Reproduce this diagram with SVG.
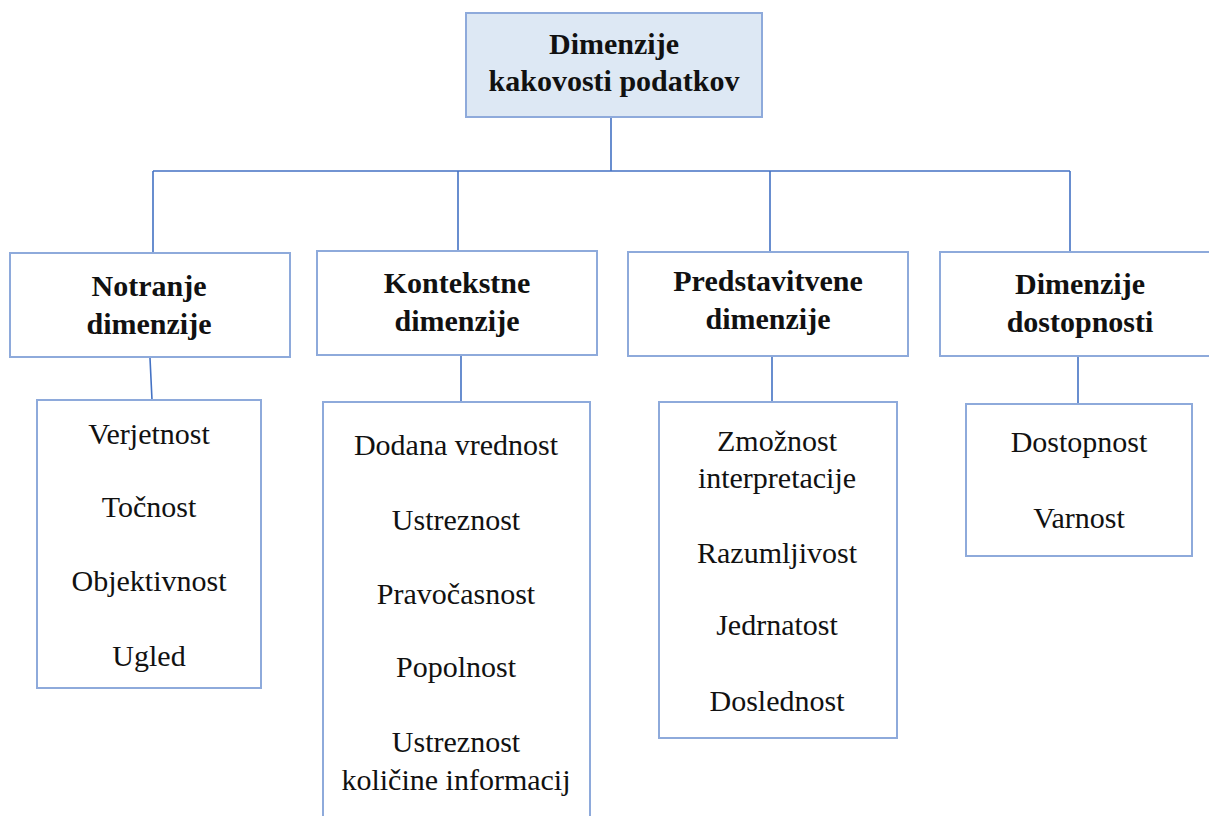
<svg xmlns="http://www.w3.org/2000/svg" width="1209" height="816" viewBox="0 0 1209 816">
<style>
.box{fill:#ffffff;stroke:#8eaadb;stroke-width:2}
.root{fill:#dde8f4;stroke:#8eaadb;stroke-width:2}
.conn{fill:none;stroke:#4472c4;stroke-width:1.6}
.h{font-weight:bold}
</style>
<rect width="1209" height="816" fill="#ffffff"/>
<g id="connectors">
<path class="conn" d="M611,117 V171 M153,171 H1070 M153,171 V253 M458,171 V251 M770,171 V252 M1070,171 V252"/>
<path class="conn" d="M150,358 L152,400 M461,356 V402 M772,356 V402 M1078,356 V404"/>
</g>
<g font-family="Liberation Serif, DejaVu Serif, serif" font-size="30" fill="#111" text-anchor="middle">
<g id="root">
<rect class="root" x="466" y="13" width="296" height="104"/>
<text class="h" x="614" y="54">Dimenzije</text>
<text class="h" x="614" y="91">kakovosti podatkov</text>
</g>
<g id="notranje">
<rect class="box" x="10" y="253" width="280" height="104"/>
<text class="h" x="149" y="296">Notranje</text>
<text class="h" x="149" y="334">dimenzije</text>
</g>
<g id="kontekstne">
<rect class="box" x="317" y="251" width="280" height="104"/>
<text class="h" x="457" y="293">Kontekstne</text>
<text class="h" x="457" y="331">dimenzije</text>
</g>
<g id="predstavitvene">
<rect class="box" x="628" y="252" width="280" height="104"/>
<text class="h" x="768" y="291">Predstavitvene</text>
<text class="h" x="768" y="329">dimenzije</text>
</g>
<g id="dostopnosti">
<rect class="box" x="940" y="252" width="280" height="104"/>
<text class="h" x="1080" y="294">Dimenzije</text>
<text class="h" x="1080" y="332">dostopnosti</text>
</g>
<g id="notranje-list">
<rect class="box" x="37" y="400" width="224" height="288"/>
<text x="149" y="444">Verjetnost</text>
<text x="149" y="517">Točnost</text>
<text x="149" y="591">Objektivnost</text>
<text x="149" y="666">Ugled</text>
</g>
<g id="kontekstne-list">
<rect class="box" x="323" y="402" width="267" height="430"/>
<text x="456" y="455">Dodana vrednost</text>
<text x="456" y="530">Ustreznost</text>
<text x="456" y="604">Pravočasnost</text>
<text x="456" y="677">Popolnost</text>
<text x="456" y="752">Ustreznost</text>
<text x="456" y="790">količine informacij</text>
</g>
<g id="predstavitvene-list">
<rect class="box" x="659" y="402" width="238" height="336"/>
<text x="777" y="451">Zmožnost</text>
<text x="777" y="488">interpretacije</text>
<text x="777" y="563">Razumljivost</text>
<text x="777" y="635">Jedrnatost</text>
<text x="777" y="711">Doslednost</text>
</g>
<g id="dostopnosti-list">
<rect class="box" x="966" y="404" width="226" height="152"/>
<text x="1079" y="452">Dostopnost</text>
<text x="1079" y="528">Varnost</text>
</g>
</g>
</svg>
